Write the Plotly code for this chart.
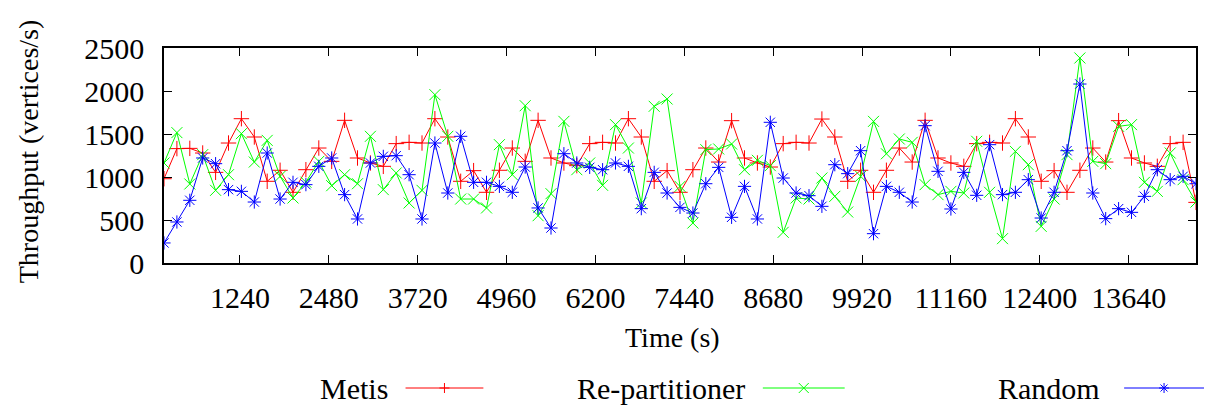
import plotly.graph_objects as go

# ---- data ----
time_s = [180 * (i + 1) for i in range(81)]
metis = [980, 1330, 1333, 1279, 1054, 1395, 1678, 1465, 950, 1078, 822, 1085, 1337, 1182, 1659,
         1221, 1163, 1124, 1388, 1403, 1395, 1678, 1465, 950, 1074, 822, 1078, 1337, 1182, 1659,
         1221, 1163, 1132, 1388, 1403, 1395, 1678, 1465, 950, 1074, 822, 1085, 1337, 1174, 1655,
         1221, 1163, 1116, 1388, 1403, 1395, 1674, 1465, 950, 1078, 822, 1078, 1337, 1174, 1659,
         1221, 1163, 1124, 1388, 1403, 1395, 1678, 1465, 950, 1074, 822, 1078, 1337, 1174, 1655,
         1221, 1163, 1124, 1388, 1403, 705]
repart = [1163, 1516, 919, 1260, 845, 1027, 1504, 1174, 1426, 1008, 756, 940, 1182, 899, 1027,
          922, 1473, 853, 1047, 698, 845, 1957, 1473, 744, 744, 640, 1376, 1027, 1829, 550,
          806, 1647, 1085, 1163, 903, 1609, 1337, 698, 1822, 1907, 891, 465, 1318, 1326, 1384,
          1085, 1194, 1132, 357, 756, 744, 988, 775, 593, 1008, 1647, 1270, 1442, 1403, 911,
          795, 833, 814, 1415, 822, 283, 1298, 1143, 426, 744, 1260, 2384, 1182, 1155, 1589,
          1609, 938, 833, 1279, 969, 709]
random_p = [233, 477, 729, 1221, 1155, 853, 833, 709, 1279, 744, 938, 911, 1124, 1221, 795,
            512, 1163, 1240, 1248, 1027, 512, 1395, 814, 1473, 938, 938, 891, 822, 1116, 640,
            407, 1271, 1163, 1112, 1085, 1163, 1124, 632, 1054, 814, 647, 581, 922, 1112, 531,
            891, 512, 1636, 988, 814, 783, 659, 1143, 1039, 1306, 341, 891, 822, 709, 1597,
            1066, 628, 1054, 787, 1376, 795, 822, 969, 523, 822, 1306, 2081, 814, 516, 632,
            589, 775, 1085, 969, 1008, 922]
x_ticks = [1240, 2480, 3720, 4960, 6200, 7440, 8680, 9920, 11160, 12400, 13640]
y_ticks = [0, 500, 1000, 1500, 2000, 2500]
series_names = ["Metis", "Re-partitioner", "Random"]
colors = ["#ff0000", "#00ff00", "#0000ff"]
symbols = ["cross-thin-open", "x-thin-open", "asterisk-open"]

FONT = "Liberation Serif, Times New Roman, serif"
FS = 30
W, H = 1206, 411
L, R, T, B = 164, 1198, 48, 263

fig = go.Figure()
for name, ys, c, s in zip(series_names, [metis, repart, random_p], colors, symbols):
    fig.add_trace(go.Scatter(x=time_s, y=ys, name=name, mode="lines+markers",
                             line=dict(color=c, width=1),
                             marker=dict(symbol=s, size=11, color=c, line=dict(color=c, width=1)),
                             showlegend=False))

def px(x):
    return (x - L) / (R - L)

def py(y):
    return (B - y) / (B - T)

annotations = [
    dict(text="Time (s)", x=px(673), y=py(337), xref="paper", yref="paper",
         xanchor="center", yanchor="middle",
         showarrow=False, font=dict(family=FONT, size=FS - 2, color="black")),
    dict(text="Throughput (vertices/s)", x=px(28), y=py(151), xref="paper", yref="paper",
         xanchor="center", yanchor="middle",
         showarrow=False, textangle=-90, font=dict(family=FONT, size=FS - 2, color="black")),
]
shapes = []
legend_text_right = [390, 748, 1104]
legend_line = [(406, 484), (764, 846), (1126, 1206)]
leg_y = 388
for name, tr, (a, b), c, s in zip(series_names, legend_text_right, legend_line, colors, symbols):
    annotations.append(dict(text=name, x=px(tr), y=py(leg_y), xref="paper", yref="paper",
                            xanchor="right", yanchor="middle", showarrow=False,
                            font=dict(family=FONT, size=FS, color="black")))
    shapes.append(dict(type="line", xref="paper", yref="paper", x0=px(a), x1=px(b),
                       y0=py(leg_y), y1=py(leg_y), line=dict(color=c, width=1)))
    m = 5
    if s.startswith("cross"):
        path = f"M {-m} 0 L {m} 0 M 0 {-m} L 0 {m}"
    elif s.startswith("x"):
        path = f"M {-m} {-m} L {m} {m} M {-m} {m} L {m} {-m}"
    else:
        d = 3.5
        path = f"M {-m} 0 L {m} 0 M 0 {-m} L 0 {m} M {-d} {-d} L {d} {d} M {-d} {d} L {d} {-d}"
    shapes.append(dict(type="path", xref="paper", yref="paper", xsizemode="pixel",
                       ysizemode="pixel", xanchor=px((a + b) / 2), yanchor=py(leg_y),
                       path=path, line=dict(color=c, width=1)))

axis_common = dict(showline=True, linecolor="black", linewidth=1.5, mirror="ticks",
                   ticks="inside", ticklen=8, tickwidth=1.2, tickcolor="black",
                   showgrid=False, zeroline=False,
                   tickfont=dict(family=FONT, size=FS, color="black"))

fig.update_layout(
    width=W, height=H,
    margin=dict(l=L, r=W - R, t=T, b=H - B),
    paper_bgcolor="white", plot_bgcolor="white",
    xaxis=dict(range=[180, 14580], tickvals=x_ticks, ticktext=[str(v) for v in x_ticks],
               ticklabelstandoff=7, **axis_common),
    yaxis=dict(range=[0, 2500], tickvals=y_ticks, ticktext=[str(v) for v in y_ticks],
               ticklabelstandoff=12, **axis_common),
    annotations=annotations, shapes=shapes,
)

fig.write_html("out.html")
